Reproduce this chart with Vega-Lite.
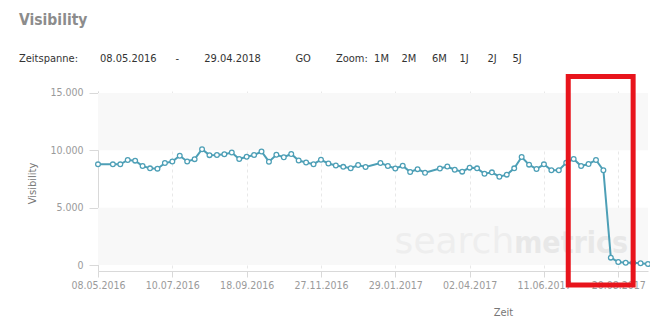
{
  "$schema": "https://vega.github.io/schema/vega-lite/v6.json",
  "width": 550,
  "height": 180,
  "autosize": {"type": "none"},
  "padding": {"left": 98, "top": 91, "right": 2, "bottom": 60},
  "background": "white",
  "title": {
    "text": "Visibility",
    "subtitle": "Zeitspanne:\u00a0\u00a0\u00a0\u00a0\u00a0\u00a0\u00a008.05.2016\u00a0\u00a0\u00a0\u00a0\u00a0\u00a0-\u00a0\u00a0\u00a0\u00a0\u00a0\u00a0\u00a0\u00a029.04.2018\u00a0\u00a0\u00a0\u00a0\u00a0\u00a0\u00a0\u00a0\u00a0\u00a0\u00a0GO\u00a0\u00a0\u00a0\u00a0\u00a0\u00a0\u00a0\u00a0Zoom:\u00a0\u00a01M\u00a0\u00a0\u00a0\u00a02M\u00a0\u00a0\u00a0\u00a0\u00a06M\u00a0\u00a0\u00a0\u00a01J\u00a0\u00a0\u00a0\u00a0\u00a0\u00a02J\u00a0\u00a0\u00a0\u00a0\u00a05J",
    "anchor": "start",
    "frame": "group",
    "dx": -79,
    "offset": 10,
    "font": "DejaVu Sans Condensed, DejaVu Sans, sans-serif",
    "fontSize": 15.5,
    "fontWeight": "bold",
    "color": "#8c8c8c",
    "subtitleFont": "DejaVu Sans Condensed, DejaVu Sans, sans-serif",
    "subtitleFontSize": 11,
    "subtitleColor": "#333333",
    "subtitlePadding": 24
  },
  "datasets": {
    "vis": [
      {"d": "08.05.2016", "v": 8780},
      {"d": "15.05.2016", "v": 8780},
      {"d": "22.05.2016", "v": 8780},
      {"d": "29.05.2016", "v": 9160},
      {"d": "05.06.2016", "v": 9100},
      {"d": "12.06.2016", "v": 8630},
      {"d": "19.06.2016", "v": 8430},
      {"d": "26.06.2016", "v": 8400},
      {"d": "03.07.2016", "v": 8890},
      {"d": "10.07.2016", "v": 9030},
      {"d": "17.07.2016", "v": 9530},
      {"d": "24.07.2016", "v": 9030},
      {"d": "31.07.2016", "v": 9230},
      {"d": "07.08.2016", "v": 10100},
      {"d": "14.08.2016", "v": 9580},
      {"d": "21.08.2016", "v": 9590},
      {"d": "28.08.2016", "v": 9660},
      {"d": "04.09.2016", "v": 9810},
      {"d": "11.09.2016", "v": 9240},
      {"d": "18.09.2016", "v": 9440},
      {"d": "25.09.2016", "v": 9590},
      {"d": "02.10.2016", "v": 9900},
      {"d": "09.10.2016", "v": 9010},
      {"d": "16.10.2016", "v": 9610},
      {"d": "23.10.2016", "v": 9400},
      {"d": "30.10.2016", "v": 9680},
      {"d": "06.11.2016", "v": 9110},
      {"d": "13.11.2016", "v": 8940},
      {"d": "20.11.2016", "v": 8790},
      {"d": "27.11.2016", "v": 9180},
      {"d": "04.12.2016", "v": 8850},
      {"d": "11.12.2016", "v": 8680},
      {"d": "18.12.2016", "v": 8560},
      {"d": "25.12.2016", "v": 8440},
      {"d": "01.01.2017", "v": 8720},
      {"d": "08.01.2017", "v": 8550},
      {"d": "15.01.2017", "v": 8900},
      {"d": "22.01.2017", "v": 8630},
      {"d": "29.01.2017", "v": 8420},
      {"d": "05.02.2017", "v": 8660},
      {"d": "12.02.2017", "v": 8110},
      {"d": "19.02.2017", "v": 8360},
      {"d": "26.02.2017", "v": 8050},
      {"d": "05.03.2017", "v": 8420},
      {"d": "12.03.2017", "v": 8590},
      {"d": "19.03.2017", "v": 8310},
      {"d": "26.03.2017", "v": 8140},
      {"d": "02.04.2017", "v": 8490},
      {"d": "09.04.2017", "v": 8430},
      {"d": "16.04.2017", "v": 7960},
      {"d": "23.04.2017", "v": 8080},
      {"d": "30.04.2017", "v": 7700},
      {"d": "07.05.2017", "v": 7880},
      {"d": "14.05.2017", "v": 8430},
      {"d": "21.05.2017", "v": 9420},
      {"d": "28.05.2017", "v": 8750},
      {"d": "04.06.2017", "v": 8370},
      {"d": "11.06.2017", "v": 8780},
      {"d": "18.06.2017", "v": 8260},
      {"d": "25.06.2017", "v": 8260},
      {"d": "02.07.2017", "v": 8920},
      {"d": "09.07.2017", "v": 9240},
      {"d": "16.07.2017", "v": 8630},
      {"d": "23.07.2017", "v": 8810},
      {"d": "30.07.2017", "v": 9160},
      {"d": "06.08.2017", "v": 8260},
      {"d": "13.08.2017", "v": 640},
      {"d": "20.08.2017", "v": 260},
      {"d": "27.08.2017", "v": 200},
      {"d": "03.09.2017", "v": 200},
      {"d": "10.09.2017", "v": 150},
      {"d": "17.09.2017", "v": 90}
    ],
    "bands": [
      {"v": 10000, "v2": 15000},
      {"v": 0, "v2": 5000}
    ],
    "brand": [
      {"d": "14.05.2017", "v": 1050, "t1": "search", "t2": "metrics"}
    ],
    "box": [
      {"d": "02.07.2017", "d2": "03.09.2017", "v": 16440, "v2": -1740}
    ]
  },
  "encoding": {
    "x": {
      "field": "d",
      "type": "ordinal",
      "scale": {
        "type": "point",
        "padding": 0,
        "domain": ["08.05.2016", "gap1", "15.05.2016", "22.05.2016", "29.05.2016", "05.06.2016", "12.06.2016", "19.06.2016", "26.06.2016", "03.07.2016", "10.07.2016", "17.07.2016", "24.07.2016", "31.07.2016", "07.08.2016", "14.08.2016", "21.08.2016", "28.08.2016", "04.09.2016", "11.09.2016", "18.09.2016", "25.09.2016", "02.10.2016", "09.10.2016", "16.10.2016", "23.10.2016", "30.10.2016", "06.11.2016", "13.11.2016", "20.11.2016", "27.11.2016", "04.12.2016", "11.12.2016", "18.12.2016", "25.12.2016", "01.01.2017", "08.01.2017", "gap2", "15.01.2017", "22.01.2017", "29.01.2017", "05.02.2017", "12.02.2017", "19.02.2017", "26.02.2017", "gap3", "05.03.2017", "12.03.2017", "19.03.2017", "26.03.2017", "02.04.2017", "09.04.2017", "16.04.2017", "23.04.2017", "30.04.2017", "07.05.2017", "14.05.2017", "21.05.2017", "28.05.2017", "04.06.2017", "11.06.2017", "18.06.2017", "25.06.2017", "02.07.2017", "09.07.2017", "16.07.2017", "23.07.2017", "30.07.2017", "06.08.2017", "13.08.2017", "20.08.2017", "27.08.2017", "03.09.2017", "10.09.2017", "17.09.2017"]
      },
      "axis": {
        "values": ["08.05.2016", "10.07.2016", "18.09.2016", "27.11.2016", "29.01.2017", "02.04.2017", "11.06.2017", "20.08.2017"],
        "title": "Zeit",
        "titleX": 405,
        "titleY": 44,
        "titleAlign": "center",
        "titleBaseline": "alphabetic",
        "titleFont": "DejaVu Sans Condensed, DejaVu Sans, sans-serif",
        "titleFontSize": 11,
        "titleFontWeight": "normal",
        "titleColor": "#777777",
        "labelFont": "DejaVu Sans Condensed, DejaVu Sans, sans-serif",
        "labelFontSize": 10.5,
        "labelColor": "#9a9a9a",
        "labelAngle": 0,
        "labelPadding": 3,
        "labelOverlap": false,
        "labelFlush": false,
        "tickSize": 6,
        "tickColor": "#d9d9d9",
        "domainColor": "#d9d9d9",
        "grid": true,
        "gridColor": "#e8e8e8",
        "gridDash": [3, 3]
      }
    },
    "y": {
      "field": "v",
      "type": "quantitative",
      "scale": {"domain": [-523, 15174], "nice": false, "zero": false},
      "axis": {
        "values": [0, 5000, 10000, 15000],
        "format": ",d",
        "title": "Visibility",
        "titleX": -62.5,
        "titleY": 92,
        "titleAngle": 270,
        "titleAlign": "center",
        "titleBaseline": "alphabetic",
        "titleFont": "DejaVu Sans Condensed, DejaVu Sans, sans-serif",
        "titleFontSize": 11,
        "titleFontWeight": "normal",
        "titleColor": "#777777",
        "labelFont": "DejaVu Sans Condensed, DejaVu Sans, sans-serif",
        "labelFontSize": 10.5,
        "labelColor": "#9a9a9a",
        "labelPadding": 6,
        "tickSize": 9,
        "tickColor": "#d9d9d9",
        "domainColor": "#d9d9d9",
        "grid": false
      }
    }
  },
  "layer": [
    {
      "data": {"name": "bands"},
      "mark": {"type": "rect", "color": "#f8f8f8"},
      "encoding": {
        "x": {"value": 0},
        "x2": {"value": "width"},
        "y2": {"field": "v2"}
      }
    },
    {
      "data": {"name": "brand"},
      "mark": {"type": "text", "align": "right", "baseline": "alphabetic", "font": "DejaVu Sans, sans-serif", "fontSize": 36, "color": "#eeeeee"},
      "encoding": {"text": {"field": "t1"}}
    },
    {
      "data": {"name": "brand"},
      "mark": {"type": "text", "align": "left", "baseline": "alphabetic", "font": "DejaVu Sans Condensed, sans-serif", "fontSize": 30, "fontWeight": "bold", "color": "#e8e8e8"},
      "encoding": {"text": {"field": "t2"}}
    },
    {
      "data": {"name": "vis"},
      "mark": {
        "type": "line",
        "color": "#4d9fb6",
        "strokeWidth": 2,
        "point": {"filled": false, "fill": "white", "stroke": "#4d9fb6", "strokeWidth": 1.3, "size": 22, "opacity": 1}
      }
    },
    {
      "data": {"name": "box"},
      "mark": {"type": "rect", "fill": "transparent", "stroke": "#e8141c", "strokeWidth": 5, "xOffset": 2},
      "encoding": {
        "x2": {"field": "d2"},
        "y2": {"field": "v2"}
      }
    }
  ],
  "config": {
    "view": {"stroke": null},
    "locale": {"number": {"decimal": ",", "thousands": ".", "grouping": [3], "currency": ["", " €"]}}
  }
}
